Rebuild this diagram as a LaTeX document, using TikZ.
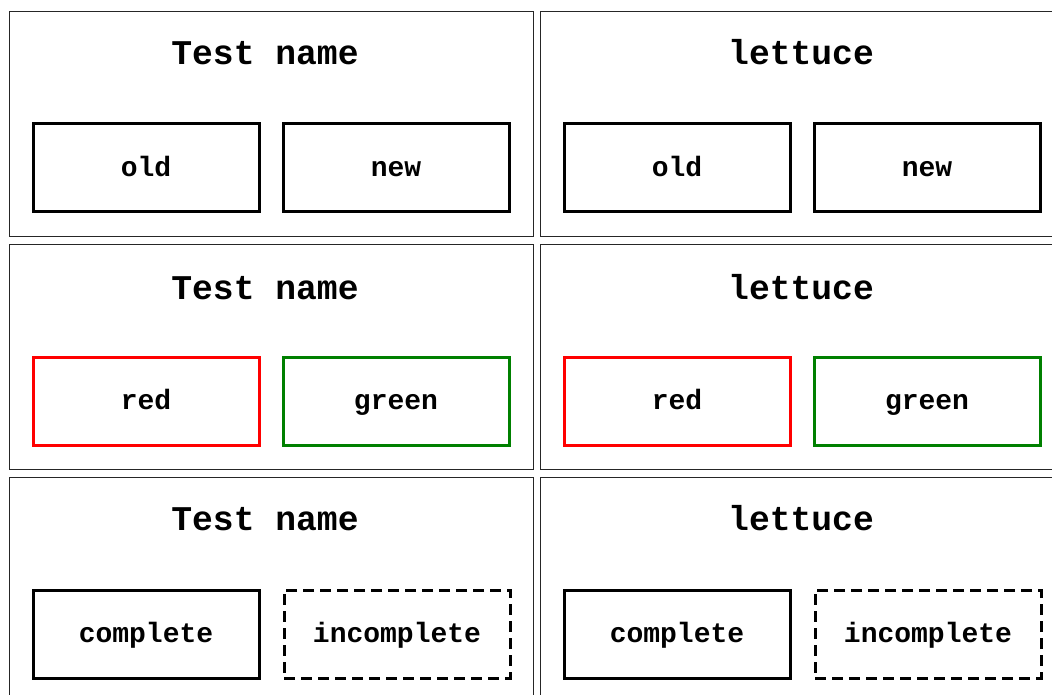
\documentclass[tikz,border=0pt]{standalone}
\usepackage{fontspec}
\setmonofont{Liberation Mono}
\begin{document}
\begin{tikzpicture}[x=0.75pt,y=-0.75pt,
  panel/.style={draw=black!85,line width=0.65pt},
  box/.style={draw,line width=2.25pt,minimum width=169.5pt,minimum height=66pt,inner sep=0pt,
    font=\ttfamily\bfseries\fontsize{21}{21}\selectfont,text height=13pt,text depth=0pt},
  dashbox/.style={box,dash pattern=on 8.25pt off 4.5pt},
  titletext/.style={font=\ttfamily\bfseries\fontsize{26}{26}\selectfont,anchor=base,inner sep=0pt},
]
\useasboundingbox (0,0) rectangle (1052,695);
\foreach \c/\dx/\tx/\ttl in {L/0/265/Test name, R/531/801/lettuce}{
  \foreach \r/\dy/\bl in {1/0/65, 2/233/299, 3/466/530}{
    \draw[panel] (9+\dx,11+\dy) rectangle (533+\dx,236+\dy);
    \node[titletext] (t\c\r) at (\tx,\bl) {\ttl};
  }
  \node[box] (a\c1) at (146+\dx,168) {old};
  \node[box] (b\c1) at (396+\dx,168) {new};
  \node[box,draw=red] (a\c2) at (146+\dx,401) {red};
  \node[box,draw={rgb,255:red,0;green,128;blue,0}] (b\c2) at (396+\dx,401) {green};
  \node[box] (a\c3) at (146+\dx,634) {complete};
  \node[dashbox] (b\c3) at (397+\dx,634) {incomplete};
}
\end{tikzpicture}
\end{document}
